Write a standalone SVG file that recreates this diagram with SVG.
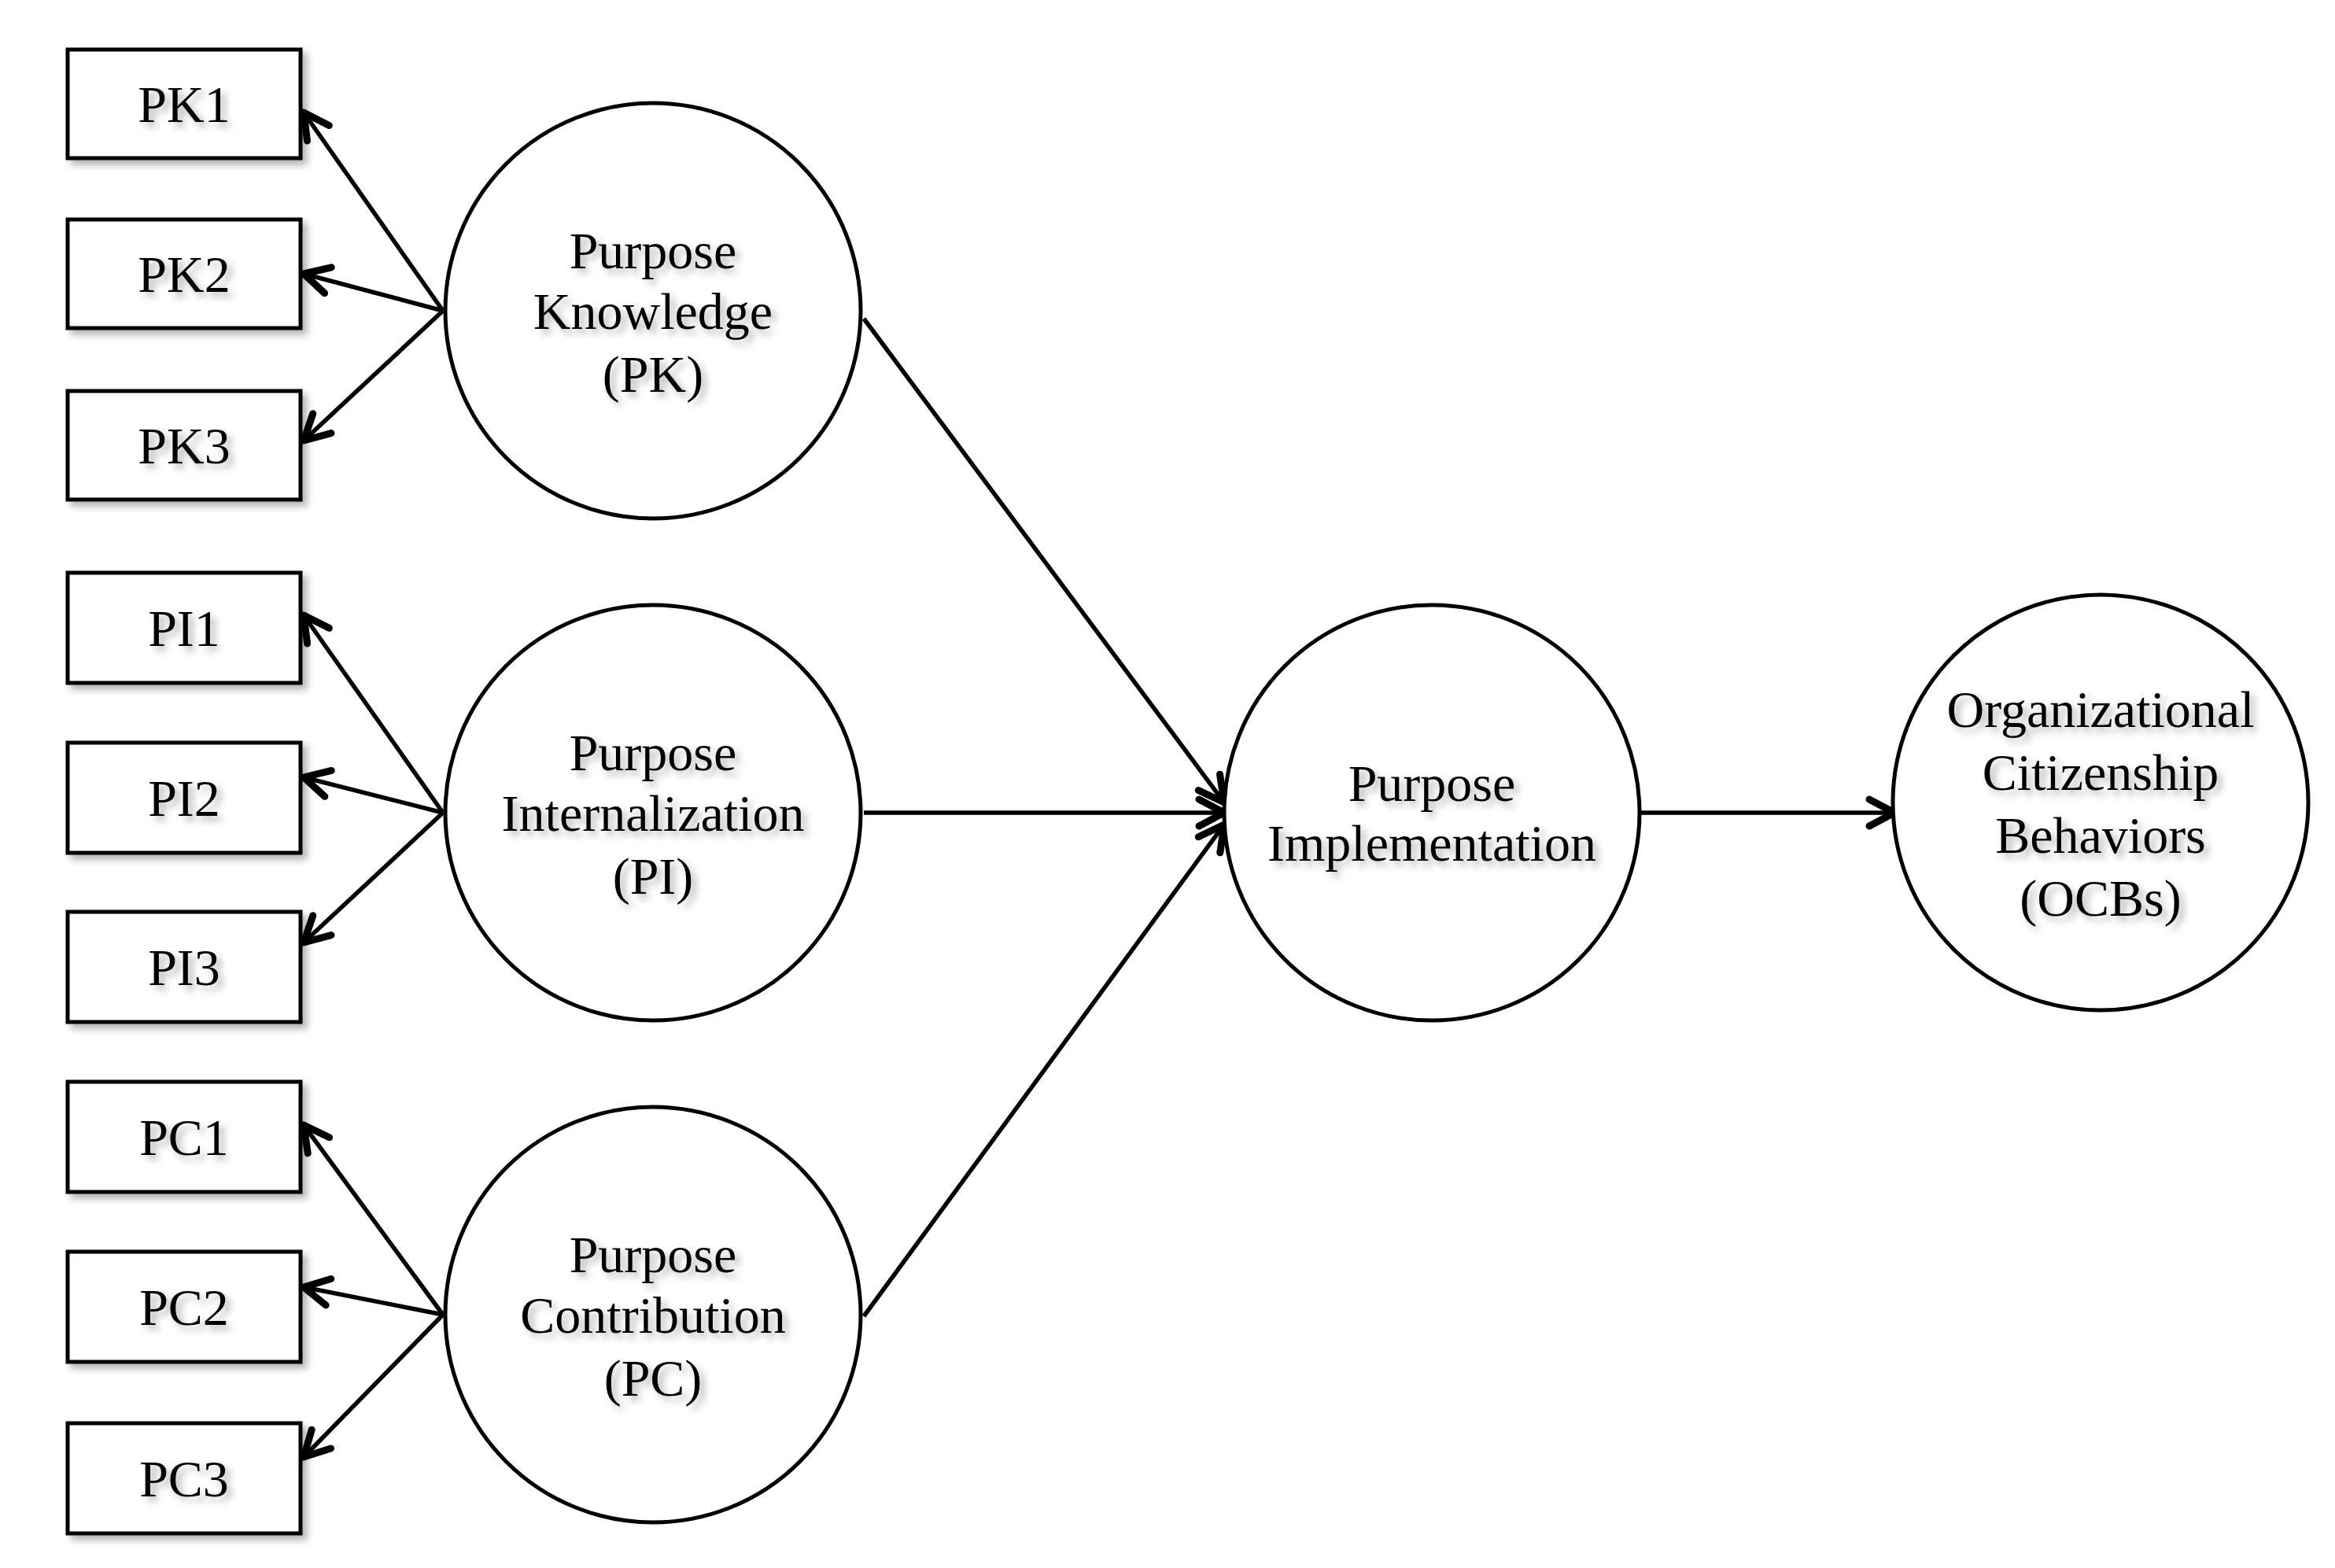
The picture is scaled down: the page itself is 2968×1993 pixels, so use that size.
<svg xmlns="http://www.w3.org/2000/svg" width="2968" height="1993" viewBox="0 0 2968 1993">
<defs>
<marker id="ah" viewBox="0 0 44 44" refX="38" refY="22" markerWidth="44" markerHeight="44" markerUnits="userSpaceOnUse" orient="auto">
<polyline points="6,5 38,22 6,39" fill="none" stroke="#000" stroke-width="9" stroke-linecap="round" stroke-linejoin="round"/>
</marker>
<filter id="sh" x="-20%" y="-20%" width="140%" height="140%"><feDropShadow dx="6" dy="6" stdDeviation="5" flood-color="#000" flood-opacity="0.3"/></filter>
</defs>
<style>
.b{fill:#fff;stroke:#000;stroke-width:5}
.t{font-family:"Liberation Serif",serif;font-size:66px;text-anchor:middle;fill:#000;filter:url(#sh)}
.c{stroke:#000;stroke-width:5.5;fill:none;marker-end:url(#ah)}
</style>
<rect width="2968" height="1993" fill="#fff"/>
<g id="connectors">
<line class="c" x1="563" y1="395" x2="386" y2="143"/>
<line class="c" x1="563" y1="395" x2="386" y2="348"/>
<line class="c" x1="563" y1="395" x2="386" y2="560"/>
<line class="c" x1="563" y1="1033" x2="386" y2="782"/>
<line class="c" x1="563" y1="1033" x2="386" y2="988"/>
<line class="c" x1="563" y1="1033" x2="386" y2="1198"/>
<line class="c" x1="563" y1="1671" x2="386" y2="1430"/>
<line class="c" x1="563" y1="1671" x2="386" y2="1636"/>
<line class="c" x1="563" y1="1671" x2="386" y2="1852"/>
<line class="c" x1="1098" y1="405" x2="1556" y2="1020"/>
<line class="c" x1="1098" y1="1033" x2="1556" y2="1033"/>
<line class="c" x1="1098" y1="1673" x2="1556" y2="1048"/>
<line class="c" x1="2085" y1="1033" x2="2408" y2="1033"/>
</g>
<g id="PK1"><rect class="b" x="86" y="63" width="296" height="138" filter="url(#sh)"/><text class="t" x="234" y="155">PK1</text></g>
<g id="PK2"><rect class="b" x="86" y="279" width="296" height="138" filter="url(#sh)"/><text class="t" x="234" y="371">PK2</text></g>
<g id="PK3"><rect class="b" x="86" y="497" width="296" height="138" filter="url(#sh)"/><text class="t" x="234" y="589">PK3</text></g>
<g id="PI1"><rect class="b" x="86" y="728" width="296" height="140" filter="url(#sh)"/><text class="t" x="234" y="821">PI1</text></g>
<g id="PI2"><rect class="b" x="86" y="944" width="296" height="140" filter="url(#sh)"/><text class="t" x="234" y="1037">PI2</text></g>
<g id="PI3"><rect class="b" x="86" y="1159" width="296" height="140" filter="url(#sh)"/><text class="t" x="234" y="1252">PI3</text></g>
<g id="PC1"><rect class="b" x="86" y="1375" width="296" height="140" filter="url(#sh)"/><text class="t" x="234" y="1468">PC1</text></g>
<g id="PC2"><rect class="b" x="86" y="1591" width="296" height="140" filter="url(#sh)"/><text class="t" x="234" y="1684">PC2</text></g>
<g id="PC3"><rect class="b" x="86" y="1809" width="296" height="140" filter="url(#sh)"/><text class="t" x="234" y="1902">PC3</text></g>
<g id="PK"><circle class="b" cx="830" cy="395" r="264"/><text class="t" x="830" y="341">Purpose</text><text class="t" x="830" y="418">Knowledge</text><text class="t" x="830" y="498">(PK)</text></g>
<g id="PI"><circle class="b" cx="830" cy="1033" r="264"/><text class="t" x="830" y="979">Purpose</text><text class="t" x="830" y="1056">Internalization</text><text class="t" x="830" y="1136">(PI)</text></g>
<g id="PC"><circle class="b" cx="830" cy="1671" r="264"/><text class="t" x="830" y="1617">Purpose</text><text class="t" x="830" y="1694">Contribution</text><text class="t" x="830" y="1774">(PC)</text></g>
<g id="PImpl"><circle class="b" cx="1820" cy="1033" r="264"/><text class="t" x="1820" y="1018">Purpose</text><text class="t" x="1820" y="1094">Implementation</text></g>
<g id="OCB"><circle class="b" cx="2670" cy="1020" r="264"/><text class="t" x="2670" y="924">Organizational</text><text class="t" x="2670" y="1004">Citizenship</text><text class="t" x="2670" y="1084">Behaviors</text><text class="t" x="2670" y="1164">(OCBs)</text></g>
</svg>
